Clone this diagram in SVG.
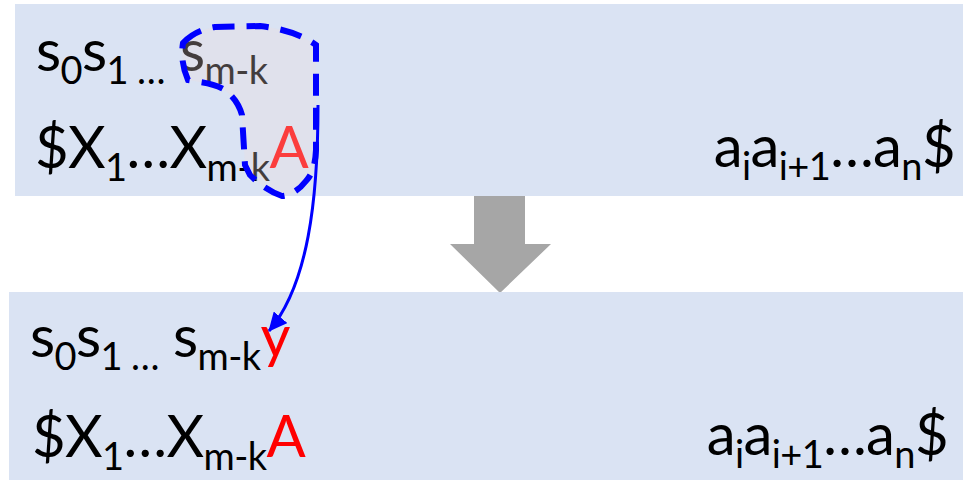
<svg xmlns="http://www.w3.org/2000/svg" width="963" height="480" viewBox="0 0 963 480">
<style>
.t{font-family:Lato,"Open Sans","Liberation Sans",sans-serif;fill:#000;letter-spacing:-0.6px}
.m1{font-size:58px}
.s1{font-size:38px}
.m2{font-size:58px}
.s2{font-size:38px}
.red{fill:#ff0000}
.panel{fill:#dae3f3}
</style>
<defs>
<marker id="ah" markerUnits="userSpaceOnUse" markerWidth="20" markerHeight="18" refX="18" refY="9" orient="auto">
<path d="M0,0 L19,9 L0,18 Z" fill="#0000ff"/>
</marker>
</defs>
<g id="top-panel">
<rect class="panel" x="15" y="4" width="948" height="192"/>
<text class="t" x="36" y="71"><tspan class="m1">s</tspan><tspan class="s1" dy="13">0</tspan><tspan class="m1" dy="-13">s</tspan><tspan class="s1" dy="13">1 …</tspan></text>
<text class="t" x="180" y="71"><tspan class="m1">s</tspan><tspan class="s1" dy="13">m-k</tspan></text>
<text class="t" x="35" y="168"><tspan class="m2">$X</tspan><tspan class="s2" dy="13">1</tspan><tspan class="m2" dy="-13">…X</tspan><tspan class="s2" dy="13">m-k</tspan><tspan class="m2 red" dy="-13">A</tspan></text>
<text class="t" x="955" y="167" text-anchor="end"><tspan class="m2">a</tspan><tspan class="s2" dy="13">i</tspan><tspan class="m2" dy="-13">a</tspan><tspan class="s2" dy="13">i+1</tspan><tspan class="m2" dy="-13">…a</tspan><tspan class="s2" dy="13">n</tspan><tspan class="m2" dy="-13">$</tspan></text>
</g>
<g id="selection">
<path d="M183,43 Q195,30 215,27 L260,26 Q295,30 316,45 L316,150 Q315,172 306,181 Q295,195 282,196 Q265,190 250,175 L245,165 L242,115 Q238,100 225,90 Q215,84 200,82 L188,80 Q180,62 183,43 Z" fill="#f0dcdc" fill-opacity="0.28" stroke="#0000ff" stroke-width="6" stroke-dasharray="22,12"/>
</g>
<g id="transition-arrow">
<polygon points="474,196 525,196 525,244 551,244 500,293 450,244 474,244" fill="#a6a6a6"/>
</g>
<g id="bottom-panel">
<rect class="panel" x="9" y="292" width="954" height="188"/>
<text class="t" x="30" y="357"><tspan class="m1">s</tspan><tspan class="s1" dy="13">0</tspan><tspan class="m1" dy="-13">s</tspan><tspan class="s1" dy="13">1 …</tspan></text>
<text class="t" x="173" y="357"><tspan class="m1">s</tspan><tspan class="s1" dy="13">m-k</tspan><tspan class="m1 red" dy="-13">y</tspan></text>
<text class="t" x="32" y="457"><tspan class="m2">$X</tspan><tspan class="s2" dy="13">1</tspan><tspan class="m2" dy="-13">…X</tspan><tspan class="s2" dy="13">m-k</tspan><tspan class="m2 red" dy="-13">A</tspan></text>
<text class="t" x="948" y="455" text-anchor="end"><tspan class="m2">a</tspan><tspan class="s2" dy="13">i</tspan><tspan class="m2" dy="-13">a</tspan><tspan class="s2" dy="13">i+1</tspan><tspan class="m2" dy="-13">…a</tspan><tspan class="s2" dy="13">n</tspan><tspan class="m2" dy="-13">$</tspan></text>
</g>
<g id="connectors">
<path d="M318,105 C318,200 308,285 269,331" fill="none" stroke="#0000ff" stroke-width="3" marker-end="url(#ah)"/>
</g>
</svg>
